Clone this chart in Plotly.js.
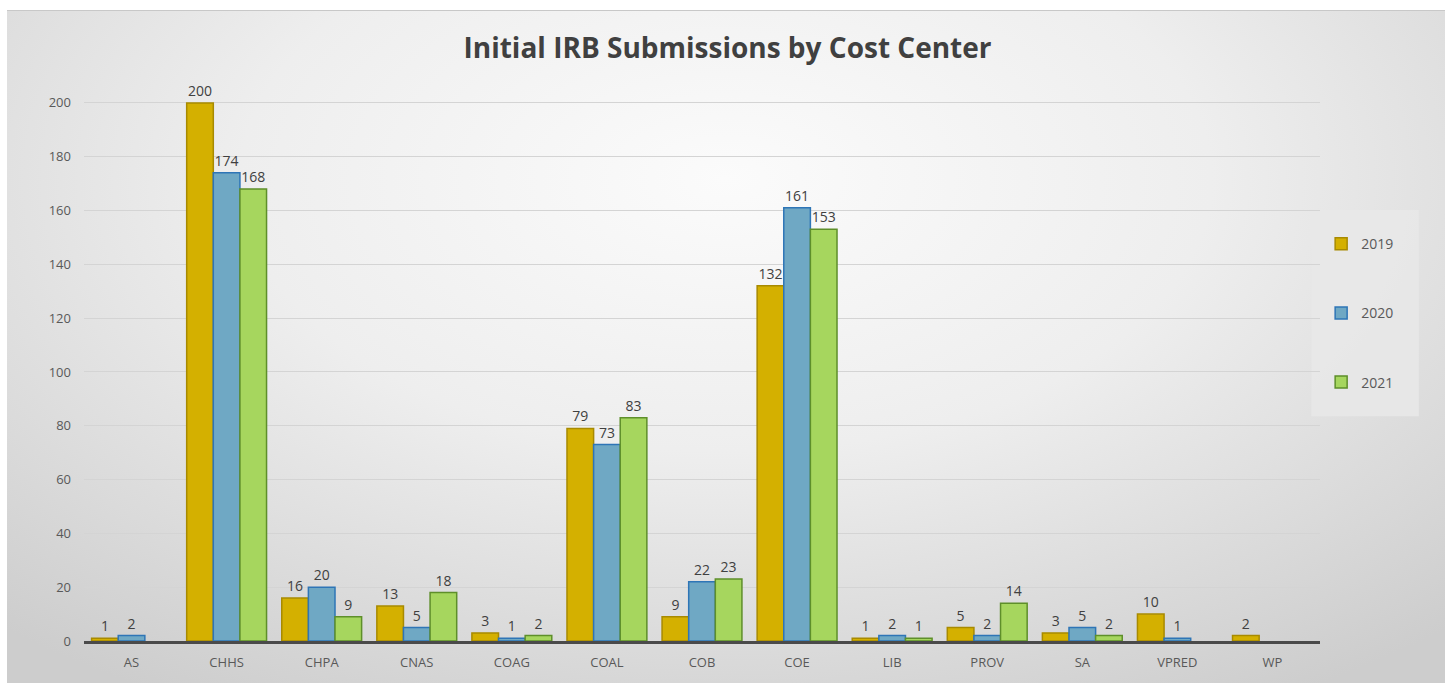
<!DOCTYPE html>
<html>
<head>
<meta charset="utf-8">
<script src="https://cdn.plot.ly/plotly-3.0.1.min.js"></script>
<style>
  html, body { margin: 0; padding: 0; background: #ffffff; }
  #frame {
    position: absolute; left: 7px; top: 10px; width: 1438px; height: 672px;
    background: radial-gradient(ellipse 75% 90% at 50% 25%, #fbfbfb 0%, #eeeeee 45%, #dcdcdc 75%, #cdcdcd 100%);
    border-top: 1px solid #c8c8c8;
  }
  #chart { position: absolute; left: 0; top: 0; width: 1455px; height: 685px; }
</style>
</head>
<body>
<div id="frame"></div>
<div id="chart"></div>
<script>
const categories = ["AS", "CHHS", "CHPA", "CNAS", "COAG", "COAL", "COB", "COE", "LIB", "PROV", "SA", "VPRED", "WP"];
const years = ["2019", "2020", "2021"];
const values2019 = [1, 200, 16, 13, 3, 79, 9, 132, 1, 5, 3, 10, 2];
const values2020 = [2, 174, 20, 5, 1, 73, 22, 161, 2, 2, 5, 1, null];
const values2021 = [null, 168, 9, 18, 2, 83, 23, 153, 1, 14, 2, null, null];
const yTicks = [0, 20, 40, 60, 80, 100, 120, 140, 160, 180, 200];

const fills = ["#D4B000", "#6FA8C4", "#A6D65E"];
const edges = ["#A88A00", "#2E75B6", "#5E8F2A"];
const series = [values2019, values2020, values2021];

const traces = series.map((vals, i) => ({
  type: "bar",
  name: years[i],
  x: categories,
  y: vals,
  text: vals.map(v => v === null ? "" : String(v)),
  textposition: "outside",
  cliponaxis: false,
  textfont: { family: "Open Sans, sans-serif", size: 14, color: "#404040" },
  marker: { color: fills[i], line: { color: edges[i], width: 1.5 } },
  legendgroup: "g" + i,
  hoverinfo: "x+y+name"
}));

const layout = {
  width: 1455, height: 685,
  paper_bgcolor: "rgba(0,0,0,0)",
  plot_bgcolor: "rgba(0,0,0,0)",
  margin: { l: 84, r: 135, t: 76, b: 44 },
  title: {
    text: "<b>Initial IRB Submissions by Cost Center</b>",
    font: { family: "Open Sans, sans-serif", size: 28, color: "#404040" },
    x: 0.5, xanchor: "center", y: 0.93, yanchor: "middle", xref: "container"
  },
  barmode: "group",
  bargap: 0.16,
  bargroupgap: 0,
  xaxis: {
    type: "category",
    tickfont: { family: "Open Sans, sans-serif", size: 13, color: "#595959" },
    showline: true, linecolor: "#4a4a4a", linewidth: 2.5,
    ticks: "", showgrid: false, zeroline: false,
    ticklabelstandoff: 8
  },
  yaxis: {
    range: [0, 210],
    tickvals: yTicks,
    ticktext: yTicks.map(String),
    tickfont: { family: "Open Sans, sans-serif", size: 13, color: "#595959" },
    showgrid: true, gridcolor: "#d4d4d4", gridwidth: 1,
    zeroline: false, showline: false, ticks: "",
    ticklabelstandoff: 12
  },
  shapes: [{
    type: "rect", layer: "below",
    xref: "paper", yref: "paper",
    x0: 0.993, x1: 1.080, y0: 0.398, y1: 0.763,
    fillcolor: "rgba(232,232,232,0.9)", line: { width: 0 }
  }],
  legend: {
    xref: "container", yref: "container",
    x: 0.908, y: 0.667, xanchor: "left", yanchor: "top",
    bgcolor: "rgba(0,0,0,0)",
    font: { family: "Open Sans, sans-serif", size: 14, color: "#595959" },
    tracegroupgap: 48,
    itemwidth: 30,
    traceorder: "grouped",
    borderwidth: 0
  },
  showlegend: true
};

Plotly.newPlot("chart", traces, layout, { displayModeBar: false, staticPlot: true });
</script>
</body>
</html>
